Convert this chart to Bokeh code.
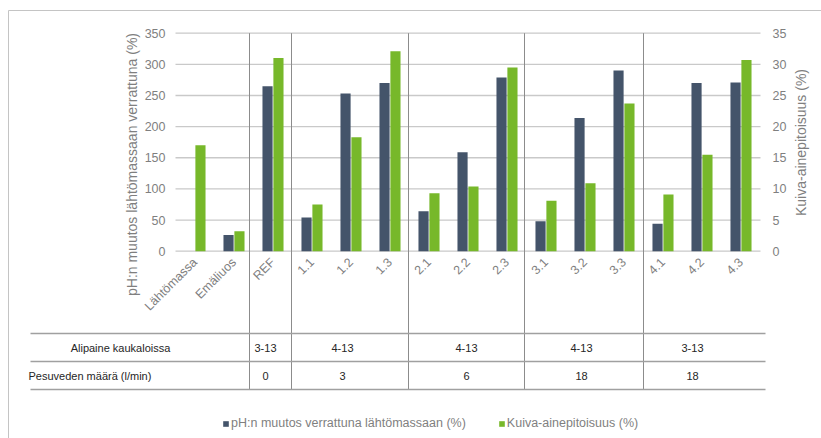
import math
import numpy as np
from bokeh.plotting import figure
from bokeh.models import Range1d, LinearAxis, FixedTicker, Legend, LegendItem, ColumnDataSource
from bokeh.transform import dodge
from bokeh.core.properties import value
from bokeh.embed import file_html
from bokeh.resources import INLINE

# ---- data -------------------------------------------------------------
categories = ["Lähtömassa", "Emäliuos", "REF", "1.1", "1.2", "1.3",
              "2.1", "2.2", "2.3", "3.1", "3.2", "3.3", "4.1", "4.2", "4.3"]
ph_change = [float("nan"), 26, 265, 54, 253, 270, 64, 159, 279, 48, 214, 290, 44, 270, 271]
dry_matter = [17.0, 3.2, 31.0, 7.5, 18.3, 32.1, 9.3, 10.4, 29.5, 8.1, 10.9, 23.7, 9.1, 15.5, 30.7]
left_ticks = [0, 50, 100, 150, 200, 250, 300, 350]
right_ticks = [0, 5, 10, 15, 20, 25, 30, 35]

table_row_labels = ["Alipaine kaukaloissa", "Pesuveden määrä (l/min)"]
vacuum = ["3-13", "4-13", "4-13", "4-13", "3-13"]
wash_water = ["0", "3", "6", "18", "18"]

left_title = "pH:n muutos lähtömassaan verrattuna (%)"
right_title = "Kuiva-ainepitoisuus (%)"
legend_labels = ["pH:n muutos verrattuna lähtömassaan (%)", "Kuiva-ainepitoisuus (%)"]

# ---- layout ------------------------------------------------------------
W, H = 821, 438
PLOT_LEFT = 175.0          # pixel where the category band starts
CAT_W = 39.0               # pixel width of one category
Y0_PX = 250.7              # pixel row of value 0
PX_PER_UNIT = 218.0 / 350  # vertical pixels per left-axis unit

DARK = "#44546a"
GREEN = "#77b82a"
GREY_TXT = "#7f7f7f"
TABLE_TXT = "#262626"
FONT = "Liberation Sans"

x_start = -0.5 - PLOT_LEFT / CAT_W
x_end = -0.5 + (W - PLOT_LEFT) / CAT_W
y_start = -(H - Y0_PX) / PX_PER_UNIT
y_end = Y0_PX / PX_PER_UNIT

p = figure(width=W, height=H,
           x_range=Range1d(x_start, x_end), y_range=Range1d(y_start, y_end),
           x_axis_type=None, y_axis_type=None,
           toolbar_location=None, output_backend="svg", min_border=0)
p.outline_line_color = None
p.background_fill_color = "white"
p.border_fill_color = "white"
# secondary value range for the dry-matter bars, plus a pixel-space range for the table
p.extra_y_ranges = {"dry": Range1d(y_start / 10, y_end / 10), "px_y": Range1d(H, 0)}
p.extra_x_ranges = {"px_x": Range1d(0, W)}
PX = dict(x_range_name="px_x", y_range_name="px_y")

idx = np.arange(len(categories))
src = ColumnDataSource(dict(x=idx, ph=ph_change, dry=dry_matter))
n = len(categories)

# horizontal gridlines
p.segment(x0=[-0.5] * len(left_ticks), x1=[n - 0.5] * len(left_ticks),
          y0=left_ticks, y1=left_ticks, line_color="#c9c9c9", line_width=1.3)

# outer frame (left and top edges)
p.segment(x0=[8, 8], y0=[10, 10], x1=[8, W], y1=[H, 10],
          line_color="#c4c4c4", line_width=1, **PX)

# group separators running from the chart down through the table
sep_x = [249, 291, 408, 524, 643]
p.segment(x0=sep_x, x1=sep_x, y0=[32.7] * len(sep_x), y1=[389] * len(sep_x),
          line_color="#8c8c8c", line_width=1, **PX)

# table rules
rule_y = [333, 361, 389]
p.segment(x0=[30] * 3, x1=[765] * 3, y0=rule_y, y1=rule_y,
          line_color="#a0a0a0", line_width=1.4, **PX)

# bars
r_ph = p.vbar(x=dodge("x", -0.14), top="ph", width=0.26, bottom=0, source=src,
              fill_color=DARK, line_color=None)
r_dry = p.vbar(x=dodge("x", 0.14), top="dry", width=0.26, bottom=0, source=src,
               fill_color=GREEN, line_color=None, y_range_name="dry")


def style_axis(ax, size="12.5px"):
    ax.axis_line_color = None
    ax.major_tick_line_color = None
    ax.minor_tick_line_color = None
    ax.major_tick_out = 0
    ax.major_tick_in = 0
    ax.major_label_text_color = GREY_TXT
    ax.major_label_text_font = FONT
    ax.major_label_text_font_size = size


yl = LinearAxis(fixed_location=-0.5, ticker=FixedTicker(ticks=left_ticks), bounds=(0, 350))
style_axis(yl)
yl.major_label_standoff = 10
p.add_layout(yl, "left")

yr = LinearAxis(fixed_location=n - 0.5, y_range_name="dry",
                ticker=FixedTicker(ticks=right_ticks), bounds=(0, 35))
style_axis(yr)
yr.major_label_standoff = 12
p.add_layout(yr, "right")

xa = LinearAxis(fixed_location=0, ticker=FixedTicker(ticks=list(idx)),
                bounds=(-0.5, n - 0.5))
style_axis(xa)
xa.major_label_overrides = {int(i): c for i, c in zip(idx, categories)}
xa.major_label_orientation = math.pi / 4
xa.major_label_standoff = 9
p.add_layout(xa, "below")

# axis titles
p.text(x=[131], y=[164], text=[left_title], angle=math.pi / 2,
       text_font=value(FONT), text_font_size="14px", text_color=GREY_TXT,
       text_align="center", text_baseline="middle", **PX)
p.text(x=[800], y=[142], text=[right_title], angle=math.pi / 2,
       text_font=value(FONT), text_font_size="14px", text_color=GREY_TXT,
       text_align="center", text_baseline="middle", **PX)

# table text
table_style = dict(text_font=value(FONT), text_font_size="11px", text_color=TABLE_TXT,
                   text_baseline="middle", **PX)
p.text(x=[120], y=[347], text=[table_row_labels[0]], text_align="center", **table_style)
p.text(x=[28], y=[375], text=[table_row_labels[1]], text_align="left", **table_style)
col_x = [265, 342, 466, 581, 692]
p.text(x=col_x, y=[347] * 5, text=vacuum, text_align="center", **table_style)
p.text(x=col_x, y=[375] * 5, text=wash_water, text_align="center", **table_style)

legend = Legend(items=[LegendItem(label=legend_labels[0], renderers=[r_ph]),
                       LegendItem(label=legend_labels[1], renderers=[r_dry])],
                orientation="horizontal", location=(222, 8),
                glyph_width=7, glyph_height=7, label_standoff=2, spacing=32,
                padding=0, margin=0, border_line_color=None,
                background_fill_alpha=0, label_height=12,
                label_text_font=FONT, label_text_font_size="12.5px",
                label_text_color=GREY_TXT)
p.add_layout(legend)

open("out.html", "w").write(file_html(p, INLINE))
